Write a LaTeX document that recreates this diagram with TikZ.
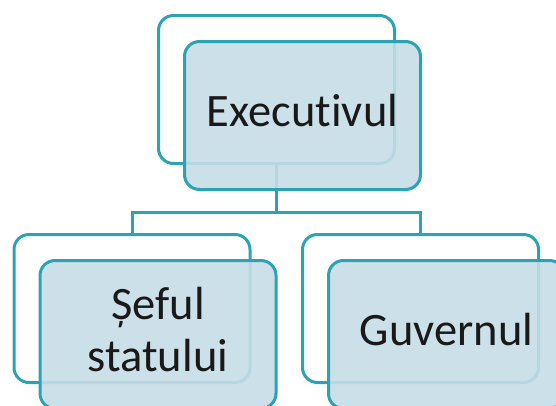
\documentclass[tikz,border=0pt]{standalone}
\usepackage{fontspec}
\setmainfont[Ligatures=NoCommon]{Carlito}
\definecolor{edgeteal}{RGB}{44,162,180}
\definecolor{boxfill}{RGB}{198,221,230}
\definecolor{ink}{RGB}{25,25,25}
\begin{document}
\begin{tikzpicture}[x=1pt,y=-1pt,
  backbox/.style={draw=edgeteal, line width=3pt, rounded corners=15pt,
    fill=white, minimum width=236pt, minimum height=148pt, inner sep=0pt},
  frontbox/.style={draw=edgeteal, line width=3pt, rounded corners=15pt,
    fill=boxfill, fill opacity=0.9,
    minimum width=236pt, minimum height=148pt, inner sep=0pt},
  boxtext/.style={text=ink, align=center, inner sep=0pt,
    font=\fontsize{46.5}{52}\selectfont},
  conn/.style={draw=edgeteal, line width=3pt}]
\useasboundingbox (0,0) rectangle (556,405);
\clip (0,0) rectangle (556,405);
\fill[white] (0,0) rectangle (556,405);

% shadow frames behind each box
\node[backbox] (execback) at (276.5,89.5) {};
\node[backbox] (sefback)  at (132,308.5) {};
\node[backbox] (guvback)  at (420.5,308.5) {};

% tree connectors
\coordinate (split) at (276.5,212);
\draw[conn] (execback.south) -- (split);
\draw[conn] (sefback.north) |- (split) -| (guvback.north);

% labelled boxes
\node[frontbox] (exec) at (302.5,115.5) {};
\node[frontbox] (sef)  at (158,334.5) {};
\node[frontbox] (guv)  at (446.5,334.5) {};
\node[boxtext] (execlabel) at ([yshift=4.5pt]exec.center) {Executivul};
\node[boxtext] (seflabel)  at ([yshift=4.5pt]sef.center) {Șeful\\statului};
\node[boxtext] (guvlabel)  at ([yshift=4.5pt]guv.center) {Guvernul};
\end{tikzpicture}
\end{document}
